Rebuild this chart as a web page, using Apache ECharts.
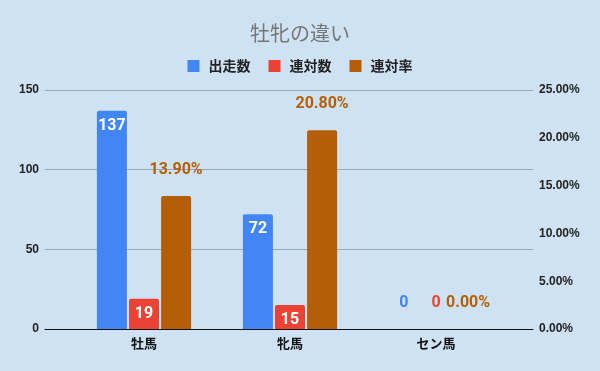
<!DOCTYPE html>
<html><head><meta charset="utf-8">
<script src="https://cdn.jsdelivr.net/npm/echarts@6/dist/echarts.min.js"></script>
<style>html,body{margin:0;padding:0;background:#cfe2f3}#c{width:600px;height:371px}</style>
</head><body><div id="c"></div>
<script>
const categories = ['牡馬', '牝馬', 'セン馬'];
const starters = [137, 72, 0];      // 出走数
const placed = [19, 15, 0];         // 連対数
const placeRate = [0.139, 0.208, 0]; // 連対率
const leftTicks = [0, 50, 100, 150];
const rightTicks = [0, 0.05, 0.10, 0.15, 0.20, 0.25];

const C_BLUE = '#4285f4', C_RED = '#ea4335', C_ORANGE = '#b45f06';
const font = 'Roboto, "Noto Sans CJK JP", sans-serif';

function items(vals, color, inside) {
  return vals.map(v => {
    const it = { value: v };
    if (!inside || v === 0) {
      it.label = { position: 'top', distance: 18, color: color };
    }
    return it;
  });
}
const pct = v => (v * 100).toFixed(2) + '%';

const chart = echarts.init(document.getElementById('c'), null, { renderer: 'canvas' });
chart.setOption({
  backgroundColor: '#cfe2f3',
  animation: false,
  title: {
    text: '牡牝の違い', left: 'center', top: 18,
    textStyle: { color: '#757575', fontSize: 20, fontWeight: 'normal', fontFamily: '"Noto Sans CJK JP", sans-serif' }
  },
  legend: {
    top: 54, left: 'center', itemWidth: 12, itemHeight: 12, itemGap: 18,
    icon: 'rect',
    textStyle: { fontSize: 14, fontWeight: 'bold', color: '#222', padding: [0, 0, 0, 4], fontFamily: '"Noto Sans CJK JP", sans-serif' },
    data: ['出走数', '連対数', '連対率']
  },
  grid: [
    { left: 45, right: 67, top: 90, bottom: 42 },
    { left: 71, right: 91, top: 90, bottom: 42 }
  ],
  xAxis: [
    { type: 'category', gridIndex: 0, data: ['a'], axisLine: { lineStyle: { color: '#111', width: 1 } }, axisTick: { show: false }, axisLabel: { show: false } },
    { type: 'category', gridIndex: 1, data: categories, axisLine: { show: false }, axisTick: { show: false },
      axisLabel: { margin: 8, fontSize: 13, fontWeight: 'bold', color: '#111', fontFamily: '"Noto Sans CJK JP", sans-serif' } }
  ],
  yAxis: [
    { type: 'value', gridIndex: 0, min: 0, max: 150, interval: 50, position: 'left',
      axisLine: { show: false }, axisTick: { show: false },
      splitLine: { lineStyle: { color: '#9aa9b8', width: 1 } },
      axisLabel: { margin: 6, fontSize: 12, fontWeight: 'bold', color: '#222', fontFamily: 'Arial, "Liberation Sans", sans-serif' } },
    { type: 'value', gridIndex: 0, min: 0, max: 0.25, interval: 0.05, position: 'right',
      axisLine: { show: false }, axisTick: { show: false }, splitLine: { show: false },
      axisLabel: { margin: 6, fontSize: 12, fontWeight: 'bold', color: '#222', fontFamily: 'Arial, "Liberation Sans", sans-serif', formatter: pct } },
    { type: 'value', gridIndex: 1, min: 0, max: 150, interval: 50, show: false },
    { type: 'value', gridIndex: 1, min: 0, max: 0.25, interval: 0.05, show: false }
  ],
  series: [
    { name: '出走数', type: 'bar', xAxisIndex: 1, yAxisIndex: 2, barWidth: 30, barGap: '7%',
      itemStyle: { color: C_BLUE, borderRadius: [2, 2, 0, 0] },
      label: { show: true, position: 'insideTop', distance: 7, color: '#fff', fontSize: 16, fontWeight: 'bold', fontFamily: font },
      data: items(starters, C_BLUE, true) },
    { name: '連対数', type: 'bar', xAxisIndex: 1, yAxisIndex: 2, barWidth: 30, barGap: '7%',
      itemStyle: { color: C_RED, borderRadius: [2, 2, 0, 0] },
      label: { show: true, position: 'insideTop', distance: 7, color: '#fff', fontSize: 16, fontWeight: 'bold', fontFamily: font },
      data: items(placed, C_RED, true) },
    { name: '連対率', type: 'bar', xAxisIndex: 1, yAxisIndex: 3, barWidth: 30, barGap: '7%',
      itemStyle: { color: C_ORANGE, borderRadius: [2, 2, 0, 0] },
      label: { show: true, position: 'top', distance: 18, color: C_ORANGE, fontSize: 16, fontWeight: 'bold', fontFamily: font,
        formatter: p => pct(p.value) },
      data: items(placeRate, C_ORANGE, false) }
  ]
});
</script></body></html>
